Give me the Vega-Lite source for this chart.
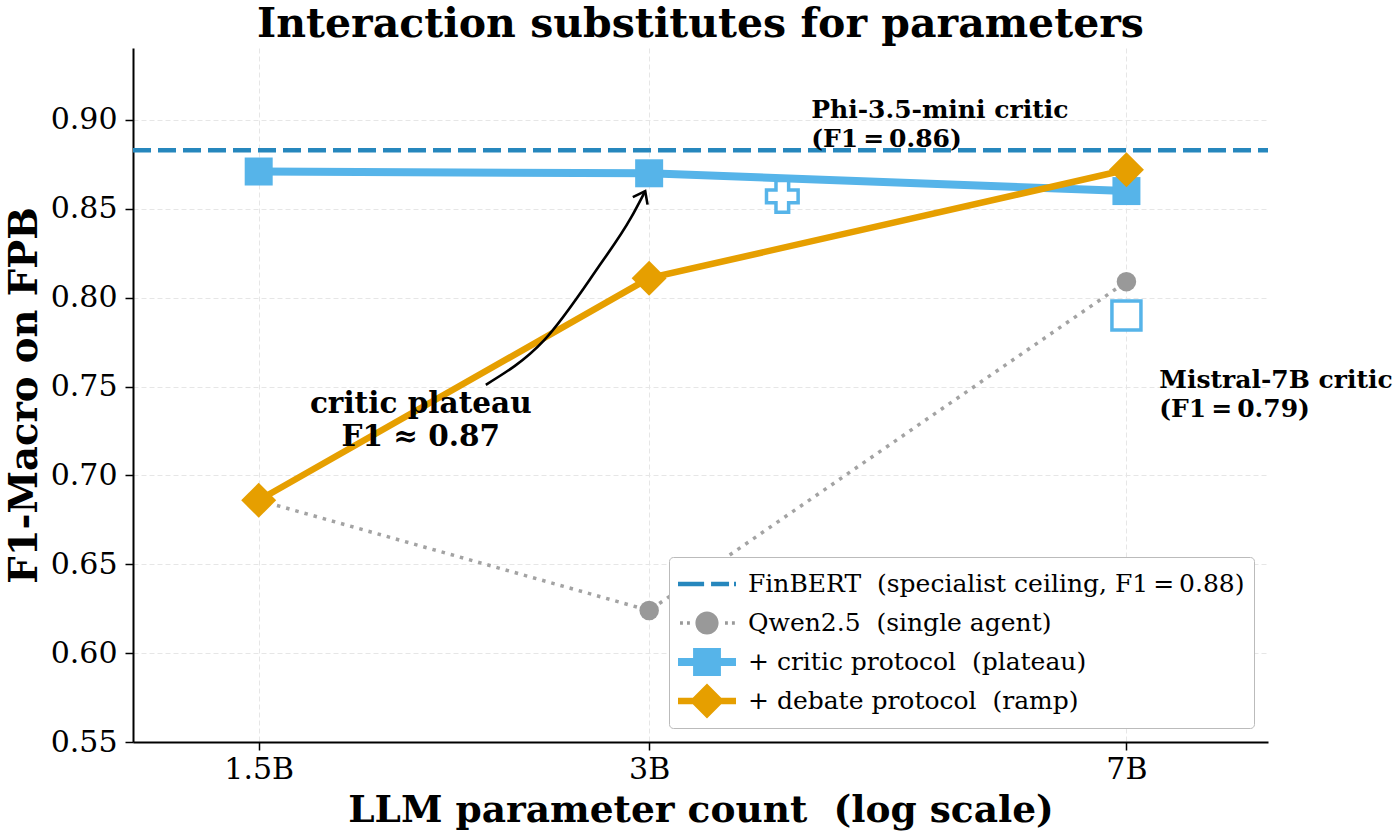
{
  "$schema": "https://vega.github.io/schema/vega-lite/v6.json",
  "description": "F1-Macro on FPB vs LLM parameter count, single agent vs critic and debate protocols",
  "width": 1135,
  "height": 694,
  "autosize": "none",
  "padding": {"left": 133, "top": 48, "right": 132, "bottom": 94},
  "background": "white",
  "title": {
    "text": "Interaction substitutes for parameters",
    "font": "DejaVu Serif",
    "fontSize": 41,
    "fontWeight": "bold",
    "color": "black",
    "anchor": "middle",
    "frame": "group",
    "offset": 2
  },
  "datasets": {
    "runs": [
      {"series": "Qwen2.5", "params": 1.5, "f1": 0.686},
      {"series": "Qwen2.5", "params": 3, "f1": 0.624},
      {"series": "Qwen2.5", "params": 7, "f1": 0.809},
      {"series": "critic", "params": 1.5, "f1": 0.871},
      {"series": "critic", "params": 3, "f1": 0.870},
      {"series": "critic", "params": 7, "f1": 0.860},
      {"series": "debate", "params": 1.5, "f1": 0.686},
      {"series": "debate", "params": 3, "f1": 0.811},
      {"series": "debate", "params": 7, "f1": 0.872}
    ],
    "finbert": [
      {"params": 1.2, "f1": 0.883},
      {"params": 9.0, "f1": 0.883}
    ],
    "probes": [
      {"model": "Phi-3.5-mini", "params": 3.8, "f1": 0.857},
      {"model": "Mistral-7B", "params": 7, "f1": 0.790}
    ],
    "arrow": [
      {"params": 2.245, "f1": 0.751},
      {"params": 2.489, "f1": 0.776},
      {"params": 2.740, "f1": 0.817},
      {"params": 2.905, "f1": 0.845},
      {"params": 2.979, "f1": 0.860}
    ],
    "tip": [
      {"params": 2.979, "f1": 0.860}
    ],
    "notes": [
      {"note": "phi", "params": 4.0, "f1": 0.901, "label": ["Phi-3.5-mini critic", "(F1\u2009=\u20090.86)"]},
      {"note": "mistral", "params": 7.42, "f1": 0.749, "label": ["Mistral-7B critic", "(F1\u2009=\u20090.79)"]},
      {"note": "plateau", "params": 2.0, "f1": 0.735, "label": ["critic plateau", "F1 ≈ 0.87"]}
    ]
  },
  "encoding": {
    "x": {
      "field": "params",
      "type": "quantitative",
      "scale": {"type": "log", "domain": [1.2, 9.0], "nice": false},
      "axis": {
        "values": [1.5, 3, 7],
        "labelExpr": "datum.value + 'B'",
        "title": "LLM parameter count\u00a0\u00a0(log scale)",
        "titleFontSize": 37.5,
        "labelPadding": 4,
        "titlePadding": 7
      }
    },
    "y": {
      "field": "f1",
      "type": "quantitative",
      "scale": {"domain": [0.55, 0.9405], "nice": false, "zero": false},
      "axis": {
        "values": [0.55, 0.6, 0.65, 0.7, 0.75, 0.8, 0.85, 0.9],
        "format": ".2f",
        "title": "F1-Macro on FPB",
        "titleFontSize": 38.5,
        "labelPadding": 8,
        "titlePadding": 6
      }
    }
  },
  "layer": [
    {
      "data": {"name": "finbert"},
      "mark": {"type": "line", "color": "#2687BD", "strokeWidth": 4.5, "strokeDash": [18, 7], "clip": true}
    },
    {
      "data": {"name": "runs"},
      "transform": [{"filter": "datum.series == 'Qwen2.5'"}],
      "mark": {
        "type": "line", "color": "#999999", "strokeWidth": 3.5, "strokeDash": [3.5, 6], "strokeCap": "butt", "opacity": 0.9,
        "point": {"filled": true, "shape": "circle", "size": 380, "color": "#999999", "opacity": 1}
      }
    },
    {
      "data": {"name": "runs"},
      "transform": [{"filter": "datum.series == 'critic'"}],
      "mark": {
        "type": "line", "color": "#56B4E9", "strokeWidth": 8,
        "point": {"filled": true, "shape": "square", "size": 784, "color": "#56B4E9", "opacity": 1}
      }
    },
    {
      "data": {"name": "runs"},
      "transform": [{"filter": "datum.series == 'debate'"}],
      "mark": {
        "type": "line", "color": "#E69F00", "strokeWidth": 6.5,
        "point": {"filled": true, "shape": "diamond", "size": 1225, "color": "#E69F00", "opacity": 1}
      }
    },
    {
      "data": {"values": []},
      "mark": {"type": "point", "filled": true},
      "encoding": {
        "color": {
          "field": "series",
          "type": "nominal",
          "scale": {
            "domain": ["FinBERT", "Qwen2.5", "critic", "debate"],
            "range": ["#2687BD", "#999999", "#56B4E9", "#E69F00"]
          },
          "legend": {
            "title": null,
            "labelExpr": "datum.value == 'FinBERT' ? 'FinBERT\u00a0\u00a0(specialist ceiling, F1\u2009=\u20090.88)' : datum.value == 'Qwen2.5' ? 'Qwen2.5\u00a0\u00a0(single agent)' : datum.value == 'critic' ? '+ critic protocol\u00a0\u00a0(plateau)' : '+ debate protocol\u00a0\u00a0(ramp)'"
          }
        },
        "shape": {
          "field": "series",
          "type": "nominal",
          "scale": {
            "domain": ["FinBERT", "Qwen2.5", "critic", "debate"],
            "range": [
              "M-1,-0.078H-0.1V0.078H-1Z M0.14,-0.078H0.76V0.078H0.14Z M0.93,-0.078H1V0.078H0.93Z",
              "M-0.93,-0.06H-0.83V0.06H-0.93Z M-0.69,-0.06H-0.59V0.06H-0.69Z M0.62,-0.06H0.72V0.06H0.62Z M0.86,-0.06H0.96V0.06H0.86Z M-0.4,0A0.4,0.4 0 1,0 0.4,0A0.4,0.4 0 1,0 -0.4,0Z",
              "M-1,-0.14H1V0.14H-1Z M-0.48,-0.48H0.48V0.48H-0.48Z",
              "M-1,-0.11H1V0.11H-1Z M0,-0.6L0.6,0L0,0.6L-0.6,0Z"
            ]
          },
          "legend": {
            "title": null,
            "labelExpr": "datum.value == 'FinBERT' ? 'FinBERT\u00a0\u00a0(specialist ceiling, F1\u2009=\u20090.88)' : datum.value == 'Qwen2.5' ? 'Qwen2.5\u00a0\u00a0(single agent)' : datum.value == 'critic' ? '+ critic protocol\u00a0\u00a0(plateau)' : '+ debate protocol\u00a0\u00a0(ramp)'"
          }
        }
      }
    },
    {
      "data": {"name": "probes"},
      "transform": [{"filter": "datum.model == 'Phi-3.5-mini'"}],
      "mark": {"type": "point", "shape": "cross", "size": 1000, "fill": "white", "fillOpacity": 1, "stroke": "#56B4E9", "strokeWidth": 3.5, "opacity": 1}
    },
    {
      "data": {"name": "probes"},
      "transform": [{"filter": "datum.model == 'Mistral-7B'"}],
      "mark": {"type": "point", "shape": "square", "size": 841, "fill": "white", "fillOpacity": 1, "stroke": "#56B4E9", "strokeWidth": 3.5, "opacity": 1}
    },
    {
      "data": {"name": "arrow"},
      "mark": {"type": "line", "color": "black", "strokeWidth": 2.6, "interpolate": "monotone"}
    },
    {
      "data": {"name": "tip"},
      "mark": {"type": "point", "shape": "M-0.6,0.8L0,0L0.6,0.8", "size": 760, "filled": false, "stroke": "black", "strokeWidth": 2.6, "angle": 27, "opacity": 1}
    },
    {
      "data": {"name": "notes"},
      "transform": [{"filter": "datum.note != 'plateau'"}],
      "mark": {"type": "text", "align": "left", "baseline": "alphabetic", "font": "DejaVu Serif", "fontWeight": "bold", "fontSize": 25, "lineHeight": 29, "color": "black"},
      "encoding": {"text": {"field": "label"}}
    },
    {
      "data": {"name": "notes"},
      "transform": [{"filter": "datum.note == 'plateau'"}],
      "mark": {"type": "text", "align": "center", "baseline": "alphabetic", "font": "DejaVu Serif", "fontWeight": "bold", "fontSize": 29.5, "lineHeight": 33, "color": "black"},
      "encoding": {"text": {"field": "label"}}
    }
  ],
  "config": {
    "view": {"stroke": null},
    "font": "DejaVu Serif",
    "axis": {
      "labelFont": "DejaVu Serif",
      "labelFontSize": 30,
      "labelColor": "black",
      "titleFont": "DejaVu Serif",
      "titleFontWeight": "bold",
      "titleColor": "black",
      "domainColor": "black",
      "domainWidth": 2,
      "tickColor": "black",
      "tickWidth": 1.5,
      "tickSize": 8,
      "grid": true,
      "gridColor": "#e6e6e6",
      "gridDash": [5, 3],
      "gridWidth": 1
    },
    "legend": {
      "orient": "bottom-right",
      "offset": 14,
      "padding": 9,
      "rowPadding": 3,
      "clipHeight": 36,
      "fillColor": "white",
      "strokeColor": "#bbbbbb",
      "cornerRadius": 4,
      "symbolSize": 3364,
      "symbolStrokeWidth": 0,
      "symbolOpacity": 1,
      "labelFont": "DejaVu Serif",
      "labelFontSize": 25,
      "labelColor": "black",
      "labelLimit": 0,
      "labelOffset": 12
    }
  }
}
